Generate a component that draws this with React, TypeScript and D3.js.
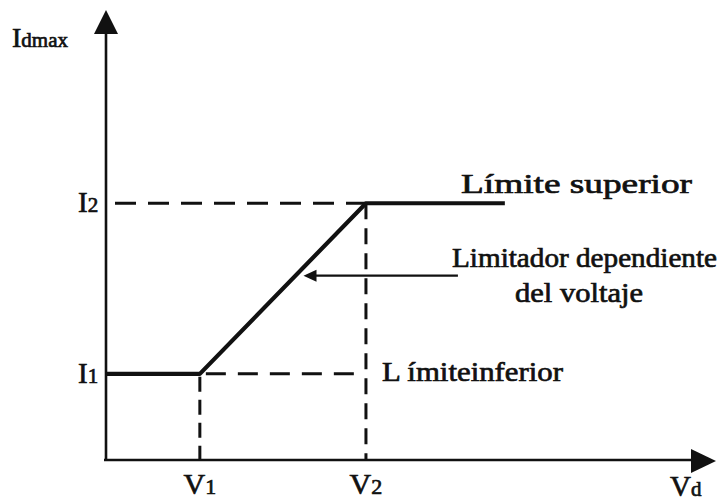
import React from "react";
import * as d3 from "d3";

// Data
const vLevels = [{ key: "V", sub: "1", value: 1 }, { key: "V", sub: "2", value: 2.77 }];
const iLevels = [{ key: "I", sub: "1", value: 1 }, { key: "I", sub: "2", value: 2.98 }];
const curveV = [0, 1, 2.77, 4.25];
const curveI = [1, 1, 2.98, 2.98];
const xAxisMax = 6.5;
const yAxisMax = 5.2;
const arrowLevel = 2.14;
const arrowStartV = 3.75;
const labelUpper = "Límite superior";
const labelMid1 = "Limitador dependiente";
const labelMid2 = "del voltaje";
const labelLower = "L ímiteinferior";

const W = 720, H = 501;
const FONT = "Liberation Serif, LiberationSerif, Times New Roman, Tinos, Nimbus Roman, FreeSerif, Noto Serif, DejaVu Serif, serif";

export default function App() {
  const x = d3.scaleLinear().domain([0, xAxisMax]).range([106, 716]);
  const y = d3.scaleLinear().domain([0, yAxisMax]).range([460, 12]);

  const curve = curveV.map((v, i) => [x(v), y(curveI[i])] as [number, number]);
  const lineGen = d3.line();

  const [v1, v2] = vLevels.map(d => d.value);
  const [i1, i2] = iLevels.map(d => d.value);

  const t = (arrowLevel - i1) / (i2 - i1);
  const diagX = x(v1 + t * (v2 - v1));
  const ay = y(arrowLevel);
  const tipX = diagX + 8;

  const txt = { fill: "#111", stroke: "#111", strokeWidth: 0.7 } as const;

  return (
    <svg width={W} height={H} style={{ position: "absolute", left: 0, top: 0, background: "#fff", fontFamily: FONT }}>
      <g stroke="#111" strokeWidth={3} fill="none">
        <line x1={x(0) + 9} x2={x(v2)} y1={y(i2)} y2={y(i2)} strokeDasharray="21 12" />
        <line x1={x(v1)} x2={x(v2) - 4} y1={y(i1)} y2={y(i1)} strokeDasharray="20 12" strokeDashoffset={-6} />
        <line x1={x(v1)} x2={x(v1)} y1={y(i1)} y2={y(0)} strokeDasharray="15 8" strokeDashoffset={-3} />
        <line x1={x(v2)} x2={x(v2)} y1={y(i2)} y2={y(0)} strokeDasharray="16 9" />
      </g>

      <g stroke="#111" strokeWidth={2.6} fill="none">
        <line x1={x(0)} x2={x(0)} y1={y(0)} y2={y(yAxisMax) + 18} />
        <line x1={x(0) - 2} x2={x(xAxisMax) - 20} y1={y(0)} y2={y(0)} />
      </g>
      <path
        d={`M${x(0)},${y(yAxisMax) - 2} L${x(0) - 12},${y(yAxisMax) + 22} L${x(0) + 12},${y(yAxisMax) + 22} Z`}
        fill="#111"
      />
      <path
        d={`M${x(xAxisMax)},${y(0) + 1} L${x(xAxisMax) - 25},${y(0) - 11} L${x(xAxisMax) - 25},${y(0) + 13} Z`}
        fill="#111"
      />

      <path d={lineGen(curve) || ""} stroke="#111" strokeWidth={4.2} fill="none" strokeLinejoin="round" />

      <line x1={x(arrowStartV)} x2={tipX + 8} y1={ay} y2={ay} stroke="#111" strokeWidth={2.2} />
      <path d={`M${tipX},${ay} L${tipX + 13},${ay - 6} L${tipX + 13},${ay + 6} Z`} fill="#111" />

      <text x={12} y={47} {...txt} fontSize={28}>
        I<tspan fontSize={21}>dmax</tspan>
      </text>
      <text x={670} y={496} {...txt} fontSize={29}>
        V<tspan fontSize={21}>d</tspan>
      </text>

      {iLevels.map(d => (
        <text key={d.sub} x={78} y={y(d.value) + 9} {...txt} fontSize={29}>
          {d.key}<tspan fontSize={21}>{d.sub}</tspan>
        </text>
      ))}
      {vLevels.map(d => (
        <text key={d.sub} x={x(d.value)} y={494} textAnchor="middle" {...txt} fontSize={30}>
          {d.key}<tspan fontSize={22}>{d.sub}</tspan>
        </text>
      ))}

      <text x={461} y={193} {...txt} fontSize={28} textLength={231} lengthAdjust="spacingAndGlyphs">{labelUpper}</text>
      <text x={452} y={267} {...txt} fontSize={28} textLength={265} lengthAdjust="spacingAndGlyphs">{labelMid1}</text>
      <text x={515} y={302} {...txt} fontSize={28} textLength={128} lengthAdjust="spacingAndGlyphs">{labelMid2}</text>
      <text x={382} y={381} {...txt} fontSize={28} textLength={181} lengthAdjust="spacingAndGlyphs">{labelLower}</text>
    </svg>
  );
}
